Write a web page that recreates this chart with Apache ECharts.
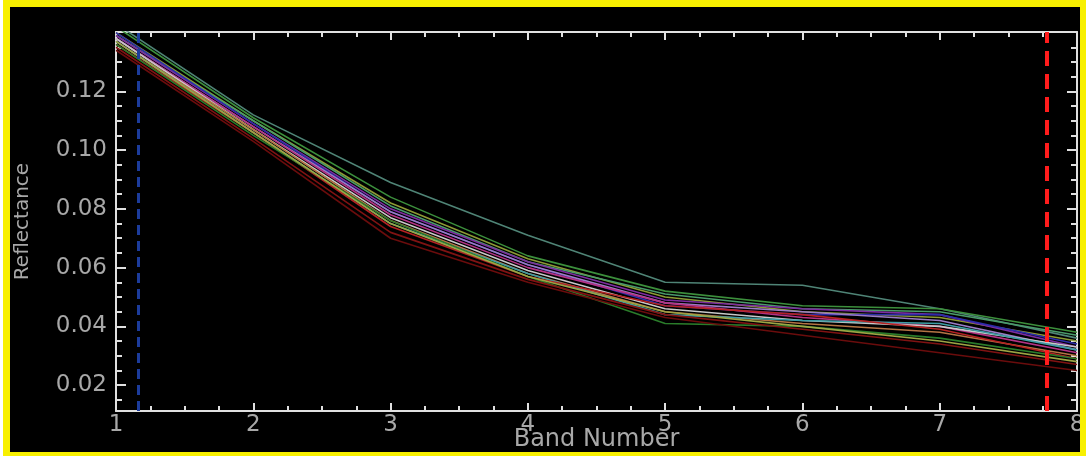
<!DOCTYPE html>
<html>
<head>
<meta charset="utf-8">
<script src="https://cdn.jsdelivr.net/npm/echarts@6/dist/echarts.min.js"></script>
<style>
  body { margin: 0; background: #fff; }
  #frame { position: absolute; left: 3px; top: 0; width: 1083px; height: 456px; background: #f8f000; }
  #chart { position: absolute; left: 10px; top: 7px; width: 1070px; height: 445px; background: #000; }
</style>
</head>
<body>
<div id="frame"></div>
<div id="chart"></div>
<script>
// band numbers on the x axis
const bands = [1, 2, 3, 4, 5, 6, 7, 8]

// reflectance spectra, one per line
const tealTop   = [0.143, 0.112, 0.089, 0.071, 0.055, 0.054, 0.046, 0.036]
const green1    = [0.142, 0.111, 0.084, 0.064, 0.052, 0.047, 0.046, 0.038]
const olive     = [0.140, 0.110, 0.082, 0.063, 0.050, 0.045, 0.043, 0.035]
const tealGreen = [0.139, 0.110, 0.081, 0.062, 0.051, 0.046, 0.045, 0.037]
const purple    = [0.139, 0.109, 0.080, 0.062, 0.049, 0.046, 0.044, 0.033]
const navy      = [0.140, 0.109, 0.079, 0.061, 0.047, 0.044, 0.044, 0.034]
const lavender  = [0.138, 0.108, 0.079, 0.061, 0.048, 0.045, 0.042, 0.032]
const magenta   = [0.138, 0.108, 0.078, 0.060, 0.048, 0.043, 0.040, 0.031]
const whiteLine = [0.138, 0.107, 0.077, 0.059, 0.046, 0.042, 0.040, 0.033]
const orange    = [0.137, 0.107, 0.076, 0.058, 0.045, 0.041, 0.038, 0.030]
const cyan      = [0.137, 0.106, 0.075, 0.058, 0.044, 0.042, 0.041, 0.032]
const red       = [0.136, 0.106, 0.074, 0.057, 0.047, 0.044, 0.039, 0.029]
const green2    = [0.136, 0.105, 0.076, 0.057, 0.041, 0.040, 0.036, 0.029]
const yellowGrn = [0.137, 0.106, 0.075, 0.057, 0.045, 0.040, 0.035, 0.028]
const darkRed1  = [0.135, 0.104, 0.072, 0.056, 0.044, 0.039, 0.034, 0.027]
const darkRed2  = [0.134, 0.103, 0.070, 0.055, 0.043, 0.037, 0.031, 0.025]

const spectra = [
  ['tealTop', tealTop, '#4f8476'],
  ['green1', green1, '#3c8f3c'],
  ['olive', olive, '#8c9a34'],
  ['tealGreen', tealGreen, '#4a9a6a'],
  ['purple', purple, '#7d2ca0'],
  ['navy', navy, '#2c2ca8'],
  ['lavender', lavender, '#9a7cc4'],
  ['magenta', magenta, '#b43284'],
  ['white', whiteLine, '#c8c8c8'],
  ['orange', orange, '#b47444'],
  ['cyan', cyan, '#3c9ca4'],
  ['red', red, '#b42222'],
  ['green2', green2, '#2a7c2a'],
  ['yellowGreen', yellowGrn, '#9ca444'],
  ['darkRed1', darkRed1, '#801212'],
  ['darkRed2', darkRed2, '#6a0c0c']
]

// y tick positions
const yMajorTicks = [0.02, 0.04, 0.06, 0.08, 0.10, 0.12]
const yMinorTicks = [0.015, 0.025, 0.03, 0.035, 0.045, 0.05, 0.055, 0.065, 0.07, 0.075,
  0.085, 0.09, 0.095, 0.105, 0.11, 0.115, 0.125, 0.13, 0.135]

// dashed marker lines (band positions)
const blueMarker = 1.16
const redMarker = 7.78

const yMin = 0.0112
const yMax = 0.1402

const axisColor = '#e0e0e0'
const labelColor = '#a8a8a8'

const chart = echarts.init(document.getElementById('chart'))

function xAxisCfg(pos, showLabel) {
  return {
    type: 'value', position: pos, min: 1, max: 8, interval: 1,
    axisLine: { show: true, onZero: false, lineStyle: { color: axisColor, width: 2 } },
    axisTick: { show: true, inside: true, length: 8, lineStyle: { color: axisColor, width: 2 } },
    minorTick: { show: true, splitNumber: 4, length: 5, lineStyle: { color: axisColor, width: 2 } },
    axisLabel: { show: showLabel, color: labelColor, fontSize: 23, margin: 3, fontFamily: 'DejaVu Sans' },
    splitLine: { show: false },
    minorSplitLine: { show: false }
  }
}

function yAxisCfg(pos, ticks, len, showLine, showLabel) {
  return {
    type: 'value', position: pos, min: yMin, max: yMax,
    axisLine: { show: showLine, onZero: false, lineStyle: { color: axisColor, width: 2 } },
    axisTick: { show: true, inside: true, length: len, customValues: ticks, lineStyle: { color: axisColor, width: 2 } },
    axisLabel: {
      show: showLabel, color: labelColor, fontSize: 23, margin: 9, fontFamily: 'DejaVu Sans',
      customValues: yMajorTicks,
      formatter: v => v.toFixed(2)
    },
    splitLine: { show: false }
  }
}

const yLeft = yAxisCfg('left', yMajorTicks, 10, true, true)
yLeft.name = 'Reflectance'
yLeft.nameLocation = 'middle'
yLeft.nameGap = 83
yLeft.nameMoveOverlap = false
yLeft.nameTextStyle = { color: labelColor, fontSize: 20, fontFamily: 'DejaVu Sans' }

const xBottom = xAxisCfg('bottom', true)
xBottom.name = 'Band Number'
xBottom.nameLocation = 'middle'
xBottom.nameGap = 17
xBottom.nameMoveOverlap = false
xBottom.nameTextStyle = { color: labelColor, fontSize: 24, fontFamily: 'DejaVu Sans', verticalAlign: 'top' }

const series = spectra.map(([name, vals, color]) => ({
  name: name,
  type: 'line',
  xAxisIndex: 0,
  yAxisIndex: 0,
  symbol: 'none',
  silent: true,
  lineStyle: { color: color, width: 1.6 },
  data: bands.map((b, i) => [b, vals[i]])
}))

series.push({
  type: 'line',
  data: [],
  silent: true,
  markLine: {
    symbol: 'none',
    silent: true,
    label: { show: false },
    animation: false,
    data: [
      { xAxis: blueMarker, lineStyle: { color: '#1c3c9c', width: 3, type: [10, 6] } },
      { xAxis: redMarker, lineStyle: { color: '#ff1c1c', width: 4, type: [15, 8] } }
    ]
  }
})

chart.setOption({
  backgroundColor: '#000',
  animation: false,
  grid: { left: 106, right: 3, top: 25, bottom: 41, outerBoundsMode: 'none' },
  xAxis: [xBottom, xAxisCfg('top', false)],
  yAxis: [
    yLeft,
    yAxisCfg('left', yMinorTicks, 6, false, false),
    yAxisCfg('right', yMajorTicks, 10, true, false),
    yAxisCfg('right', yMinorTicks, 6, false, false)
  ],
  series: series
})
</script>
</body>
</html>
